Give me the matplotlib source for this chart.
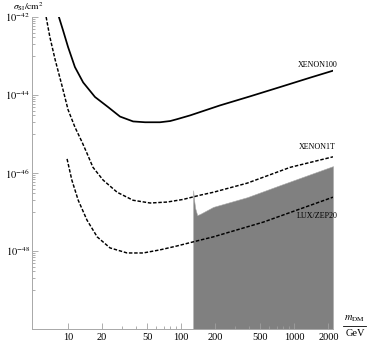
import matplotlib
matplotlib.use("Agg")
import matplotlib.pyplot as plt
from matplotlib.ticker import FixedLocator, NullFormatter
from matplotlib.lines import Line2D

plt.rcParams['font.family'] = 'serif'
plt.rcParams['font.serif'] = ['Liberation Serif', 'DejaVu Serif']
plt.rcParams['mathtext.fontset'] = 'stix'

# XENON100 limit (solid)
m_x100 = [8.3, 9.0, 10, 11.5, 13.6, 17.3, 22.6, 28.8, 37.6, 48, 65, 80, 92, 120, 220, 410, 750, 1390, 2200]
s_x100 = [1.0e-42, 4.7e-43, 1.7e-43, 5.2e-44, 2.1e-44, 8.9e-45, 4.9e-45, 2.8e-45, 2.1e-45, 2.0e-45,
          2.0e-45, 2.15e-45, 2.4e-45, 3.0e-45, 5.4e-45, 9.3e-45, 1.6e-44, 2.8e-44, 4.2e-44]

# XENON1T projection (dashed)
m_x1t = [6.4, 6.9, 7.7, 8.9, 10, 11.5, 13.3, 14.7, 16.6, 20.4, 27.2, 37.6, 53.2, 75.2, 104, 147, 192, 384, 922, 2200]
s_x1t = [1.0e-42, 3.1e-43, 7.9e-44, 1.6e-44, 4.2e-45, 1.5e-45, 6.2e-46, 3.2e-46, 1.4e-46, 6.6e-47,
         3.2e-47, 2.0e-47, 1.7e-47, 1.8e-47, 2.1e-47, 2.7e-47, 3.2e-47, 5.5e-47, 1.4e-46, 2.6e-46]

# LUX/ZEP20 projection (dashed)
m_lux = [9.8, 10.8, 12.3, 14.7, 18.1, 23.5, 33.3, 46.1, 65.1, 92.2, 147, 192, 532, 2200]
s_lux = [2.3e-46, 6.6e-47, 2.0e-47, 6.2e-48, 2.3e-48, 1.2e-48, 8.9e-49, 8.9e-49, 1.07e-48, 1.35e-48,
         1.9e-48, 2.3e-48, 5.5e-48, 2.4e-47]

# shaded region (model prediction)
m_band = [127.6, 130.2, 133, 138.6, 147, 192, 384, 752, 2200]
s_band = [3.6e-47, 2.0e-47, 1.26e-47, 8.3e-48, 8.9e-48, 1.35e-47, 2.4e-47, 4.9e-47, 1.5e-46]

xticks = [10, 20, 50, 100, 200, 500, 1000, 2000]
xminor = [30, 40, 60, 70, 80, 90, 300, 400, 600, 700, 800, 900]
yticks = [1e-48, 1e-46, 1e-44, 1e-42]
ylabels = [r'$10^{-48}$', r'$10^{-46}$', r'$10^{-44}$', r'$10^{-42}$']
yminor = [k * 10.0**e for e in (-49, -47, -45, -43) for k in range(1, 10)]

fig = plt.figure(figsize=(3.74, 3.45), dpi=100)
ax = fig.add_axes([32/374, 16/345, 301/374, 312/345])
ax.set_xscale('log')
ax.set_yscale('log')
ax.set_xlim(4.8, 2200)
ax.set_ylim(1e-50, 1e-42)

ax.fill_between(m_band, 1e-50, s_band, color='#808080', lw=0.4, edgecolor='#a8a8a8')
ax.plot(m_x100, s_x100, color='black', lw=1.25)
ax.plot(m_x1t, s_x1t, color='black', lw=1.05, linestyle=(0, (2.4, 1.2)))
ax.plot(m_lux, s_lux, color='black', lw=1.05, linestyle=(0, (2.4, 1.2)))

ax.text(1600, 5.9e-44, 'XENON100', fontsize=5.8, ha='center', va='center')
ax.text(1600, 4.7e-46, 'XENON1T', fontsize=5.8, ha='center', va='center')
ax.text(1600, 7.9e-48, 'LUX/ZEP20', fontsize=5.8, ha='center', va='center')

for s in ['top', 'right']:
    ax.spines[s].set_visible(False)
for s in ['bottom', 'left']:
    ax.spines[s].set_color('#a8a8a8')
    ax.spines[s].set_linewidth(0.7)

ax.xaxis.set_major_locator(FixedLocator(xticks))
ax.xaxis.set_minor_locator(FixedLocator(xminor))
ax.set_xticklabels([str(v) for v in xticks])
ax.xaxis.set_minor_formatter(NullFormatter())
ax.yaxis.set_major_locator(FixedLocator(yticks))
ax.yaxis.set_minor_locator(FixedLocator(yminor))
ax.set_yticklabels(ylabels)
ax.yaxis.set_minor_formatter(NullFormatter())
ax.tick_params(which='both', direction='in', color='#a0a0a0', width=0.6, labelsize=7.5, labelcolor='black')
ax.tick_params(which='major', length=4)
ax.tick_params(which='minor', length=2)
ax.tick_params(axis='x', pad=3)
ax.tick_params(axis='y', pad=1.5)

# axis labels in the Mathematica style: y label above the axis, x label as a fraction at the right
fig.text(13/374, 1.0, r'$\sigma_{\rm SI}/{\rm cm}^2$', fontsize=6.8, ha='left', va='top')
fig.text(354/374, 1 - 319/345, r'$m_{\rm DM}$', fontsize=7.5, ha='center', va='center')
fig.add_artist(Line2D([343/374, 366/374], [1 - 326/345, 1 - 326/345], color='black', lw=0.6))
fig.text(355/374, 1 - 334/345, 'GeV', fontsize=7.5, ha='center', va='center')

fig.savefig('out.png', dpi=100)
